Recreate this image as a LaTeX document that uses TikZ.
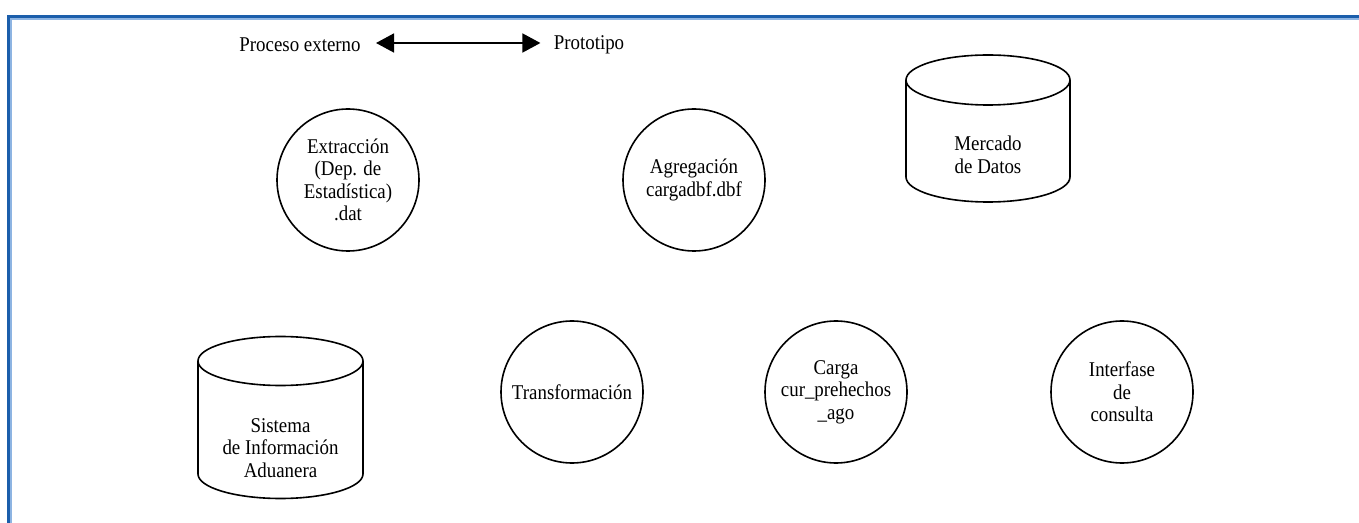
\documentclass[tikz,border=0pt]{standalone}
\usepackage{fontspec}
\setmainfont{Liberation Serif}[FakeStretch=0.9]
\usetikzlibrary{arrows.meta}
\definecolor{framedark}{HTML}{1B5EAB}
\definecolor{framelight}{HTML}{8DB4E2}
\tikzset{
  proc/.style={circle, draw, line width=0.8pt, minimum size=71pt, inner sep=0pt,
    align=center, font=\fontsize{10.5pt}{11.25pt}\selectfont},
  lbl/.style={inner sep=0pt, align=center, font=\fontsize{10.5pt}{11.25pt}\selectfont},
  cyl/.style={line width=0.8pt},
  legarrow/.style={line width=0.8pt, {Triangle[length=9pt,width=9.5pt]}-{Triangle[length=9pt,width=9.5pt]}}
}
\newcommand{\mycyl}[5]{% cx, rx, ty, by, ry
  \draw[cyl] (#1-#2,#3) -- (#1-#2,#4) arc[start angle=180, end angle=0, x radius=#2, y radius=#5] -- (#1+#2,#3);
  \draw[cyl] (#1,#3) ellipse[x radius=#2, y radius=#5];
}
\begin{document}
\begin{tikzpicture}[x=0.5pt,y=-0.5pt]
\useasboundingbox (0,0) rectangle (1359,523);
% frame
\draw[framelight, line width=0.75pt] (10.8,523) -- (10.8,18.8) -- (1359,18.8);
\draw[framedark, line width=1.2pt] (8.5,523) -- (8.5,16.5) -- (1359,16.5);
% legend
\node[lbl] (pe) at (300,45) {Proceso externo};
\node[lbl] (pt) at (589,45) {Prototipo};
\draw[legarrow] ([xshift=7.5pt,yshift=1pt]pe.east) -- ([xshift=-6.5pt,yshift=1pt]pt.west);
% processes
\node[proc] (ext) at (348,180) {Extracción\\(Dep. de\\Estadística)\\.dat};
\node[proc] (agr) at (694,180) {Agregación\\cargadbf.dbf};
\node[proc] (tra) at (572,392) {Transformación};
\node[proc] (car) at (836,392) {Carga\\cur\_prehechos\\\_ago};
\node[proc] (int) at (1122,392) {Interfase\\de\\consulta};
% stores
\mycyl{988}{82}{80}{177}{25}
\node[lbl] (mer) at (988,155) {Mercado\\de Datos};
\mycyl{280.5}{82.5}{361}{474}{24.5}
\node[lbl] (sia) at (280.5,448) {Sistema\\de Información\\Aduanera};
\end{tikzpicture}
\end{document}
